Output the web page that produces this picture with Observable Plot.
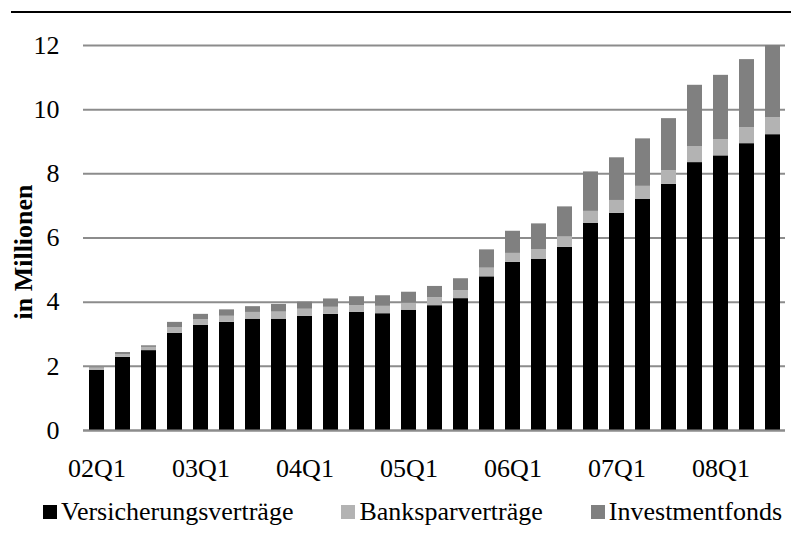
<!DOCTYPE html>
<html><head><meta charset="utf-8">
<script src="https://cdn.jsdelivr.net/npm/d3@7"></script>
<script src="https://cdn.jsdelivr.net/npm/@observablehq/plot@0.6"></script>
<style>
body{margin:0;background:#fff;}
#wrap{position:relative;width:791px;height:542px;font-family:"Liberation Serif",serif;background:#fff;}
#topline{position:absolute;left:11px;top:11px;width:780px;height:2px;background:#000;}
#legend{position:absolute;left:43px;top:497px;display:flex;gap:48px;font-size:26px;color:#000;white-space:nowrap;}
.item{display:flex;align-items:center;}
.sw{width:14px;height:14px;margin-right:4px;}
</style></head><body>
<div id="wrap"><div id="topline"></div><div id="chart"></div><div id="legend"></div></div>
<script>
const quarters = ["02Q1","02Q2","02Q3","02Q4","03Q1","03Q2","03Q3","03Q4","04Q1","04Q2","04Q3","04Q4",
  "05Q1","05Q2","05Q3","05Q4","06Q1","06Q2","06Q3","06Q4","07Q1","07Q2","07Q3","07Q4","08Q1","08Q2","08Q3"];
const xTickLabels = ["02Q1","03Q1","04Q1","05Q1","06Q1","07Q1","08Q1"];
const yTicks = [0,2,4,6,8,10,12];
const seriesNames = ["Versicherungsverträge","Banksparverträge","Investmentfonds"];
const seriesColors = ["#000000","#b3b3b3","#808080"];
const versicherung = [1.88,2.28,2.49,3.03,3.28,3.37,3.47,3.47,3.56,3.62,3.68,3.64,3.75,3.89,4.11,4.79,5.24,5.33,5.71,6.46,6.77,7.20,7.67,8.35,8.56,8.94,9.22];
const bankspar = [0.06,0.09,0.10,0.17,0.17,0.19,0.21,0.22,0.22,0.22,0.21,0.23,0.22,0.25,0.25,0.27,0.28,0.31,0.32,0.37,0.40,0.41,0.43,0.50,0.50,0.50,0.53];
const investment = [0.02,0.06,0.05,0.17,0.17,0.20,0.18,0.24,0.22,0.26,0.28,0.33,0.34,0.35,0.37,0.57,0.69,0.80,0.94,1.23,1.33,1.48,1.62,1.91,2.01,2.12,2.25];

const seriesValues = [versicherung, bankspar, investment];
const data = [];
seriesNames.forEach((s, si) => quarters.forEach((q, qi) => data.push({q, s, v: seriesValues[si][qi]})));

const chart = Plot.plot({
  width: 791, height: 490,
  marginLeft: 83, marginRight: 6, marginTop: 45, marginBottom: 60,
  style: {fontFamily: "Liberation Serif", fontSize: "26px", color: "#000", background: "transparent"},
  x: {domain: quarters, paddingInner: 0.43, paddingOuter: 0.215, align: 0.5, label: null},
  y: {domain: [0, 12], label: null},
  color: {domain: seriesNames, range: seriesColors},
  marks: [
    Plot.gridY(yTicks, {stroke: "#8c8c8c", strokeWidth: 2, strokeOpacity: 1}),
    Plot.barY(data, {x: "q", y: "v", fill: "s"}),
    Plot.ruleY([0], {stroke: "#8c8c8c", strokeWidth: 2}),
    Plot.axisX({ticks: xTickLabels, tickSize: 0, tickPadding: 28, fontSize: 26, label: null}),
    Plot.axisY({ticks: yTicks, tickSize: 0, tickPadding: 24, fontSize: 26, tickFormat: d => String(d), label: null}),
    Plot.text(["in Millionen"], {text: d => d, frameAnchor: "left", textAnchor: "middle", rotate: -90, dx: -60, dy: 14, fontWeight: "bold", fontSize: 26, fill: "#000"})
  ]
});
document.getElementById("chart").appendChild(chart);

const legend = document.getElementById("legend");
seriesNames.forEach((s, i) => {
  const item = document.createElement("div");
  item.className = "item";
  const sw = document.createElement("span");
  sw.className = "sw";
  sw.style.background = seriesColors[i];
  const t = document.createElement("span");
  t.textContent = s;
  item.appendChild(sw); item.appendChild(t);
  legend.appendChild(item);
});
</script>
</body></html>
